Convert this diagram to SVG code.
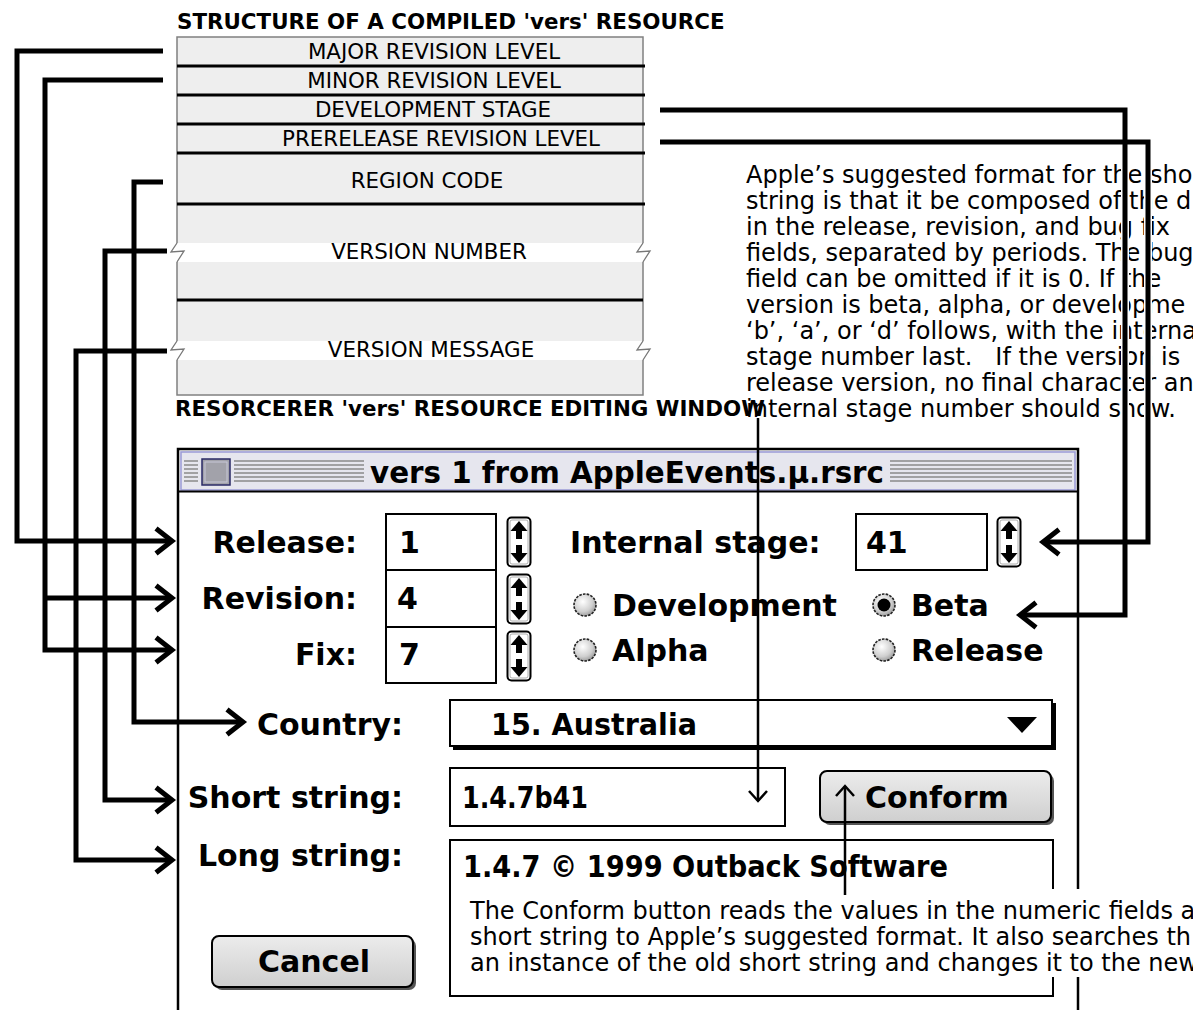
<svg xmlns="http://www.w3.org/2000/svg" width="1193" height="1010" viewBox="0 0 1193 1010">
<defs>
<style>
.t{font-family:"DejaVu Sans",sans-serif;fill:#000}
.h{font-size:21.4px;font-weight:bold}
.lab{font-size:21.4px;text-anchor:middle}
.p{font-size:24px}
.w{font-family:"DejaVu Sans",sans-serif;font-weight:bold;font-size:30px;fill:#000}
.r{text-anchor:end}
.dv{stroke:#000;stroke-width:3}
.c{fill:none;stroke:#000;stroke-width:5;stroke-linejoin:miter}
.halo{fill:none;stroke:#fff;stroke-width:8}
.ct{fill:none;stroke:#000;stroke-width:2.5}
.fld{fill:#fff;stroke:#000;stroke-width:2}
.stripe{stroke:#8a8a8a;stroke-width:1.3}
.zz{fill:none;stroke:#777;stroke-width:1.3}
.rad{fill:url(#rg);stroke:#222;stroke-width:1.6;stroke-dasharray:2.6 1.2}
.btn{fill:url(#bg);stroke:#000;stroke-width:2}
</style>
<marker id="chev" markerUnits="userSpaceOnUse" markerWidth="28" markerHeight="32" viewBox="-22 -16 28 32" refX="0" refY="0" orient="auto">
<path d="M-16,-12.5 L0,0 L-16,12.5" fill="none" stroke="#000" stroke-width="5"/>
</marker>
<marker id="chevT" markerUnits="userSpaceOnUse" markerWidth="18" markerHeight="24" viewBox="-14 -12 18 24" refX="0" refY="0" orient="auto">
<path d="M-10,-9 L0,0 L-10,9" fill="none" stroke="#000" stroke-width="2.5"/>
</marker>
<radialGradient id="rg" cx="0.4" cy="0.35" r="0.75">
<stop offset="0" stop-color="#ffffff"/>
<stop offset="0.6" stop-color="#cfcfcf"/>
<stop offset="1" stop-color="#8a8a8a"/>
</radialGradient>
<linearGradient id="bg" x1="0" y1="0" x2="0" y2="1">
<stop offset="0" stop-color="#ececec"/>
<stop offset="1" stop-color="#cfcfcf"/>
</linearGradient>
<symbol id="spin" viewBox="0 0 26 52">
<rect x="1.5" y="1.5" width="23" height="49" rx="4" fill="#fff" stroke="#000" stroke-width="2"/>
<rect x="4" y="4" width="18" height="44" rx="2" fill="none" stroke="#999" stroke-width="0.8"/>
<polygon points="13,5 4.5,15 21.5,15" fill="#000"/>
<rect x="10" y="15" width="6" height="8" fill="#000"/>
<rect x="10" y="29" width="6" height="8" fill="#000"/>
<polygon points="4.5,37 21.5,37 13,47" fill="#000"/>
</symbol>
</defs>

<rect width="1193" height="1010" fill="#fff"/>

<g id="structure">
<text class="t h" x="177" y="29">STRUCTURE OF A COMPILED 'vers' RESOURCE</text>
<rect x="177" y="37" width="466" height="358" fill="#eeeeee" stroke="#808080" stroke-width="1.5"/>
<rect x="168" y="243" width="484" height="19" fill="#fff"/>
<rect x="168" y="341" width="484" height="19" fill="#fff"/>
<path class="zz" d="M177,243 L171,252 L184,251 L177,262"/>
<path class="zz" d="M643,243 L637,252 L650,251 L643,262"/>
<path class="zz" d="M177,341 L171,350 L184,349 L177,360"/>
<path class="zz" d="M643,341 L637,350 L650,349 L643,360"/>
<line class="dv" x1="177" y1="66" x2="645" y2="66"/>
<line class="dv" x1="177" y1="95" x2="645" y2="95"/>
<line class="dv" x1="177" y1="124" x2="645" y2="124"/>
<line class="dv" x1="177" y1="153" x2="645" y2="153"/>
<line class="dv" x1="177" y1="204" x2="645" y2="204"/>
<line class="dv" x1="177" y1="300" x2="643" y2="300"/>
<text class="t lab" x="434" y="59">MAJOR REVISION LEVEL</text>
<text class="t lab" x="434" y="88">MINOR REVISION LEVEL</text>
<text class="t lab" x="433" y="117">DEVELOPMENT STAGE</text>
<text class="t lab" x="441" y="146">PRERELEASE REVISION LEVEL</text>
<text class="t lab" x="427" y="188">REGION CODE</text>
<text class="t lab" x="429" y="259">VERSION NUMBER</text>
<text class="t lab" x="431" y="357">VERSION MESSAGE</text>
</g>

<g id="format-note">
<text class="t p" x="746" y="183">Apple’s suggested format for the sho</text>
<text class="t p" x="746" y="209">string is that it be composed of the d</text>
<text class="t p" x="746" y="235">in the release, revision, and bug fix</text>
<text class="t p" x="746" y="261">fields, separated by periods. The bug</text>
<text class="t p" x="746" y="287">field can be omitted if it is 0. If the</text>
<text class="t p" x="746" y="313">version is beta, alpha, or developme</text>
<text class="t p" x="746" y="339">‘b’, ‘a’, or ‘d’ follows, with the interna</text>
<text class="t p" x="746" y="365" xml:space="preserve">stage number last.   If the version is</text>
<text class="t p" x="746" y="391">release version, no final character an</text>
<text class="t p" x="746" y="417">internal stage number should show.</text>
</g>

<g id="window">
<text class="t h" x="175" y="416">RESORCERER 'vers' RESOURCE EDITING WINDOW</text>
<rect x="178" y="449" width="900" height="620" fill="#fff" stroke="#000" stroke-width="2.5"/>
<rect x="180" y="451" width="896" height="40" fill="#e6e6ee"/>
<rect x="181" y="452" width="894" height="38" fill="none" stroke="#9a9ad6" stroke-width="1.5"/>
<line x1="179" y1="491.5" x2="1077" y2="491.5" stroke="#000" stroke-width="2"/>
<g class="stripe">
<path d="M184,461H198M184,465H198M184,469H198M184,473H198M184,477H198M184,481H198"/>
<path d="M234,461H364M234,465H364M234,469H364M234,473H364M234,477H364M234,481H364"/>
<path d="M890,461H1072M890,465H1072M890,469H1072M890,473H1072M890,477H1072M890,481H1072"/>
</g>
<rect x="202" y="459" width="28" height="26" fill="#a2a2aa" stroke="#2a2a66" stroke-width="1.5"/>
<rect x="205" y="462" width="22" height="20" fill="none" stroke="#c8c8d8" stroke-width="1"/>
<text class="w" x="370" y="483" font-size="29" textLength="514" lengthAdjust="spacingAndGlyphs">vers 1 from AppleEvents.µ.rsrc</text>
</g>

<g id="release-field">
<text class="w r" x="357" y="553">Release:</text>
<rect class="fld" x="386" y="514" width="110" height="56"/>
<text class="w" x="399" y="553">1</text>
<use href="#spin" x="506" y="516" width="26" height="52"/>
</g>
<g id="revision-field">
<text class="w r" x="357" y="609">Revision:</text>
<rect class="fld" x="386" y="570" width="110" height="57"/>
<text class="w" x="397" y="609">4</text>
<use href="#spin" x="506" y="573" width="26" height="52"/>
</g>
<g id="fix-field">
<text class="w r" x="357" y="665">Fix:</text>
<rect class="fld" x="386" y="627" width="110" height="56"/>
<text class="w" x="399" y="665">7</text>
<use href="#spin" x="506" y="630" width="26" height="52"/>
</g>
<g id="internal-stage">
<text class="w" x="570" y="553">Internal stage:</text>
<rect class="fld" x="856" y="514" width="131" height="56"/>
<text class="w" x="866" y="553">41</text>
<use href="#spin" x="996" y="516" width="26" height="52"/>
</g>
<g id="stage-radios">
<circle class="rad" cx="585" cy="605" r="11"/>
<text class="w" x="612" y="616">Development</text>
<circle class="rad" cx="585" cy="650" r="11"/>
<text class="w" x="612" y="661">Alpha</text>
<circle class="rad" cx="884" cy="605" r="11"/>
<circle cx="884" cy="605" r="6.5" fill="#000"/>
<text class="w" x="911" y="616">Beta</text>
<circle class="rad" cx="884" cy="650" r="11"/>
<text class="w" x="911" y="661">Release</text>
</g>
<g id="country">
<text class="w r" x="403" y="735">Country:</text>
<rect x="453" y="703" width="603" height="47" fill="#000"/>
<rect class="fld" x="450" y="700" width="602" height="46"/>
<text class="w" x="491" y="735" textLength="206" lengthAdjust="spacingAndGlyphs">15. Australia</text>
<polygon points="1007,717 1037,717 1022,733" fill="#000"/>
</g>
<g id="short-string">
<text class="w r" x="403" y="808">Short string:</text>
<rect class="fld" x="450" y="768" width="335" height="58"/>
<text class="w" x="462" y="808" font-size="28" textLength="126" lengthAdjust="spacingAndGlyphs">1.4.7b41</text>
</g>
<g id="conform-button">
<rect x="823" y="774" width="231" height="51" rx="7" fill="#555"/>
<rect class="btn" x="820" y="771" width="231" height="51" rx="7"/>
<text class="w" x="865" y="808">Conform</text>
</g>
<g id="long-string">
<text class="w r" x="403" y="866">Long string:</text>
<rect class="fld" x="450" y="840" width="603" height="156"/>
<text class="w" x="463" y="877" font-size="28" textLength="485" lengthAdjust="spacingAndGlyphs">1.4.7 © 1999 Outback Software</text>
</g>
<g id="cancel-button">
<rect x="215" y="939" width="201" height="51" rx="7" fill="#555"/>
<rect class="btn" x="212" y="936" width="201" height="51" rx="7"/>
<text class="w" x="258" y="972">Cancel</text>
</g>

<g id="conform-note">
<rect x="456" y="889" width="737" height="88" fill="#fff"/>
<text class="t p" x="470" y="919">The Conform button reads the values in the numeric fields a</text>
<text class="t p" x="470" y="945">short string to Apple’s suggested format. It also searches th</text>
<text class="t p" x="470" y="971">an instance of the old short string and changes it to the new</text>
</g>

<g id="connectors">
<path class="halo" d="M1125,150V430M1148,150V430"/>
<path class="c" d="M163,51H17V541H172" marker-end="url(#chev)"/>
<path class="c" d="M163,80H45V650H172" marker-end="url(#chev)"/>
<path class="c" d="M45,598H172" marker-end="url(#chev)"/>
<path class="c" d="M163,182H134V722H243" marker-end="url(#chev)"/>
<path class="c" d="M167,251H105V800H172" marker-end="url(#chev)"/>
<path class="c" d="M167,351H76V860H172" marker-end="url(#chev)"/>
<path class="c" d="M660,110H1125V615H1020" marker-end="url(#chev)"/>
<path class="c" d="M660,142H1148V542H1043" marker-end="url(#chev)"/>
<path class="ct" d="M758,418V801" marker-end="url(#chevT)"/>
<path class="ct" d="M845,895V786" marker-end="url(#chevT)"/>
</g>
</svg>
